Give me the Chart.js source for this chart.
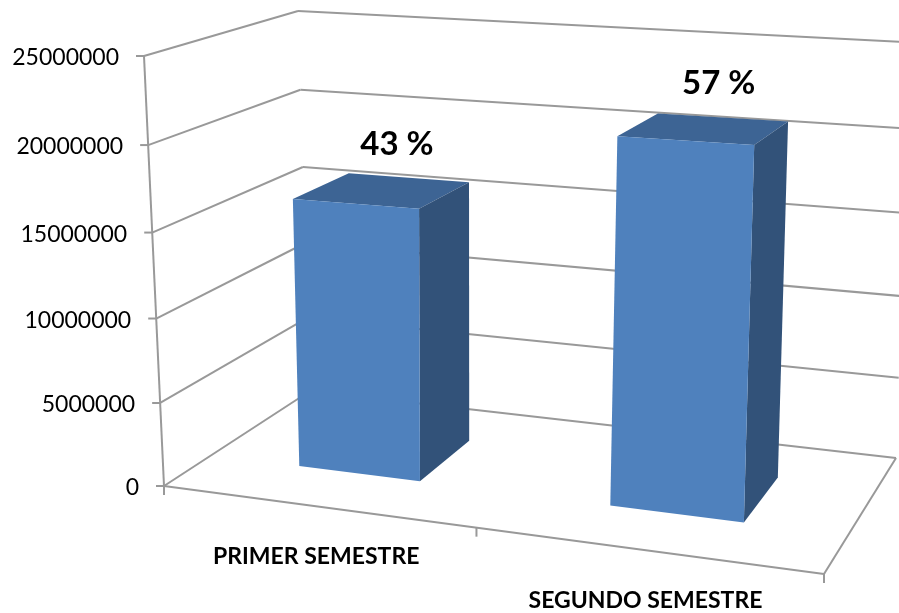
<!DOCTYPE html>
<html>
<head>
<meta charset="utf-8">
<style>
  html, body { margin: 0; background: #fff; }
  canvas { display: block; }
</style>
<script src="https://cdn.jsdelivr.net/npm/chart.js@4"></script>
</head>
<body>
<canvas id="chart" width="899" height="613"></canvas>
<script>
const categories = ['PRIMER SEMESTRE', 'SEGUNDO SEMESTRE'];
const values = [16150000, 21000000];
const percentLabels = ['43 %', '57 %'];
const axisMax = 25000000;
const axisStep = 5000000;

// screen corners of the 3D box: floor and ceiling, order front-left, front-right, back-right, back-left
const floorQuad = [[164, 486], [824, 574], [896, 458], [310, 391]];
const topQuad = [[144, 56], [838, 91], [910, 42.3], [298, 11]];
const barDepth = [0.30, 0.70];
const heightWarp = 0.045;
const topSkew = 0.07;

// unit square -> quad
function makeHomography(q) {
  const [x0, y0] = q[0], [x1, y1] = q[1], [x2, y2] = q[2], [x3, y3] = q[3];
  const dx1 = x1 - x2, dx2 = x3 - x2, sx = x0 - x1 + x2 - x3;
  const dy1 = y1 - y2, dy2 = y3 - y2, sy = y0 - y1 + y2 - y3;
  const det = dx1 * dy2 - dx2 * dy1;
  const g = (sx * dy2 - dx2 * sy) / det;
  const h = (dx1 * sy - sx * dy1) / det;
  const a = x1 - x0 + g * x1, b = x3 - x0 + h * x3;
  const d = y1 - y0 + g * y1, e = y3 - y0 + h * y3;
  return (u, w) => {
    const t = g * u + h * w + 1;
    return [(a * u + b * w + x0) / t, (d * u + e * w + y0) / t];
  };
}
const floorAt = makeHomography(floorQuad);
const topAt = makeHomography(topQuad);

// u across categories, w into the depth, v 0..1 up the value axis
function project(u, w, v) {
  const f = floorAt(u, w), t = topAt(u - topSkew * u * (1 - u), w);
  const k = v / (1 + heightWarp * (1 - v));
  return [f[0] + (t[0] - f[0]) * k, f[1] + (t[1] - f[1]) * k];
}

function line(ctx, a, b) {
  ctx.beginPath();
  ctx.moveTo(a[0], a[1]);
  ctx.lineTo(b[0], b[1]);
  ctx.stroke();
}

function face(ctx, pts, color) {
  ctx.fillStyle = color;
  ctx.beginPath();
  pts.forEach((p, i) => i ? ctx.lineTo(p[0], p[1]) : ctx.moveTo(p[0], p[1]));
  ctx.closePath();
  ctx.fill();
}

const box3d = {
  id: 'box3d',
  beforeDatasetsDraw(chart) {
    const ctx = chart.ctx;
    const area = chart.chartArea;
    const xs = chart.scales.x, ys = chart.scales.y;
    const toU = px => (px - area.left) / area.width;
    const toV = py => (area.bottom - py) / area.height;

    // walls, floor and axes
    ctx.save();
    ctx.strokeStyle = '#999';
    ctx.lineWidth = 2;
    ctx.fillStyle = '#000';
    ctx.font = '23px Lato';
    ctx.textAlign = 'right';
    ctx.textBaseline = 'middle';
    ys.ticks.forEach(tick => {
      const v = toV(ys.getPixelForValue(tick.value));
      const front = project(0, 0, v);
      line(ctx, front, project(0, 1, v));
      line(ctx, project(0, 1, v), project(1, 1, v));
      line(ctx, front, [front[0] - 8, front[1]]);
      ctx.fillText(String(tick.value), front[0] - 25, front[1] + 2);
    });
    line(ctx, project(0, 0, 0), project(0, 0, 1));
    line(ctx, project(0, 0, 0), project(1, 0, 0));
    line(ctx, project(1, 0, 0), project(1, 1, 0));
    [0, 0.5, 1].forEach(u => {
      const p = project(u, 0, 0);
      line(ctx, p, [p[0], p[1] + 9]);
    });
    ctx.restore();

    // bars
    const bars = chart.getDatasetMeta(0).data;
    bars.forEach((bar, i) => {
      const u0 = toU(bar.x - bar.width / 2), u1 = toU(bar.x + bar.width / 2);
      const v1 = toV(bar.y), v0 = toV(bar.base);
      const [w0, w1] = barDepth;
      const fl = project(u0, w0, v0), fr = project(u1, w0, v0), br = project(u1, w1, v0);
      const tfl = project(u0, w0, v1), tfr = project(u1, w0, v1);
      const tbr = project(u1, w1, v1), tbl = project(u0, w1, v1);
      face(ctx, [tfl, tfr, tbr, tbl], '#3d6494');
      face(ctx, [fr, br, tbr, tfr], '#325279');
      face(ctx, [fl, fr, tfr, tfl], '#4f81bd');

      ctx.fillStyle = '#000';
      ctx.textAlign = 'center';
      ctx.textBaseline = 'middle';
      ctx.font = 'bold 33px Lato';
      ctx.fillText(percentLabels[i], (tfl[0] + tbr[0]) / 2 + 16, (tfl[1] + tbr[1]) / 2 - 46);
    });

    // category labels
    ctx.fillStyle = '#000';
    ctx.font = 'bold 23px Lato';
    categories.forEach((name, i) => {
      const p = project(toU(xs.getPixelForTick(i)), 0, 0);
      ctx.fillText(name, p[0], p[1] + 50);
    });
    return false;
  }
};

new Chart(document.getElementById('chart'), {
  type: 'bar',
  data: {
    labels: categories,
    datasets: [{ data: values, backgroundColor: '#4f81bd', barPercentage: 0.4, categoryPercentage: 1 }]
  },
  options: {
    responsive: false,
    animation: false,
    // chart area is the front plane of the box
    layout: { padding: { left: 164, right: 75, top: 56, bottom: 127 } },
    plugins: { legend: { display: false }, tooltip: { enabled: false } },
    scales: {
      x: { display: false },
      y: { display: false, min: 0, max: axisMax, ticks: { stepSize: axisStep } }
    }
  },
  plugins: [box3d]
});
</script>
</body>
</html>
